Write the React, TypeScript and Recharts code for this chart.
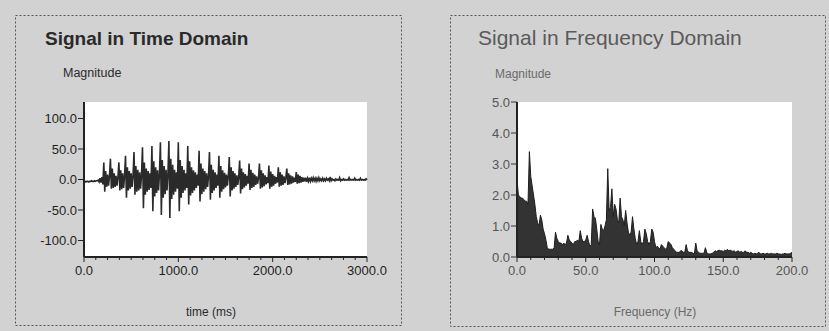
import React from "react";
import { LineChart, Line, AreaChart, Area, XAxis, YAxis, CartesianGrid } from "recharts";

// ---- Time-domain signal: one sample every 10 ms, 0..3000 ms ----
const SAMPLE_MS = 10;
const timeSignal: number[] = [
  // 0-200 ms
  -3, -3, -4, -3, -3, -4, -3, -3, -2, -3, -3, -2, -3, -2, -2, -1, -4, 2, -5, 4, -8,
  // bursts
  28, -20, 14, -12, 8, -10, 5,
  34, -15, 18, -14, 10, -12, 6, -10, 4,
  28, -18, 15, -16, 10, -14, 6,
  39, -30, 20, -18, 14, -15, 10, -12, 6,
  45, -25, 22, -20, 16, -18, 12, -15, 8,
  53, -47, 28, -25, 18, -20, 14, -17, 10, -14,
  55, -52, 30, -28, 20, -22, 15, -18, 10,
  61, -58, 32, -30, 22, -24, 16, -18, 10,
  63, -63, 34, -32, 24, -25, 16, -20, 12, -15,
  61, -52, 32, -30, 22, -22, 16, -18, 10, -14,
  55, -41, 30, -26, 20, -22, 15, -18, 12, -14, 8, -10,
  47, -36, 26, -24, 18, -20, 14, -16, 10, -12, 6,
  45, -33, 24, -22, 16, -18, 12, -14, 8, -10,
  39, -30, 22, -20, 15, -16, 11, -13, 8, -10, 5,
  37, -28, 20, -18, 14, -15, 10, -12, 7, -9, 4,
  31, -23, 18, -16, 12, -13, 9, -10, 6, -7,
  26, -17, 16, -14, 11, -12, 8, -9, 5, -7, 3,
  26, -15, 15, -13, 10, -11, 7, -8, 4, -6,
  23, -15, 13, -12, 9, -10, 6, -7, 4, -5,
  20, -12, 12, -10, 8, -9, 5, -6, 3,
  18, -9, 10, -8, 7, -7, 5, -5, 3, -4,
  12, -7, 8, -6, 6, -5, 4, -4, 3, -3,
  // tail 2350-3000 ms
  3, -4, 2, -3, 3, -3, 2, -2, 3, -2,
  2, -3, 2, -2, 3, -2, 1, -2, 2, -2,
  1, -2, 2, -1, 1, -2, 4, -2, 1, -1,
  0, -2, 1, -1, 0, -1, 3, -2, 0, -1,
  1, -1, 0, -1, 0, -1, 3, -1, 0, -1,
  0, -1, 2, -1, 0, -1, 0, -1, 2, -1,
  0, -1, 0, -1, 1, -1,
];

// ---- Frequency spectrum: one value per Hz, 0..200 Hz ----
const spectrum: number[] = [
  2.5, 2.0, 1.95, 1.9, 1.9, 1.85, 1.8, 1.8, 1.7, 3.4,
  2.6, 2.3, 2.0, 1.7, 1.3, 1.1, 1.0, 1.35, 1.2, 0.9,
  0.75, 0.55, 0.3, 0.25, 0.25, 0.25, 0.25, 0.3, 0.8, 0.6,
  0.5, 0.45, 0.45, 0.4, 0.45, 0.4, 0.45, 0.7, 0.55, 0.5,
  0.45, 0.4, 0.5, 0.5, 0.55, 0.5, 0.85, 0.6, 0.5, 0.5,
  0.55, 0.7, 0.5, 0.35, 0.4, 1.55, 1.3, 1.25, 0.9, 0.5,
  0.4, 1.05, 0.9, 0.85, 1.0, 1.2, 2.85, 1.5, 1.6, 2.2,
  1.3, 1.7, 1.55, 1.2, 1.1, 1.9, 1.3, 1.2, 1.0, 1.5,
  1.1, 0.8, 0.7, 0.8, 1.3, 0.9, 0.6, 0.4, 0.5, 0.85,
  0.5, 0.4, 0.5, 0.9, 0.75, 0.5, 0.4, 0.5, 0.9, 0.8,
  0.5, 0.3, 0.35, 0.3, 0.25, 0.4, 0.35, 0.3, 0.25, 0.3,
  0.5, 0.45, 0.4, 0.3, 0.25, 0.2, 0.15, 0.15, 0.15, 0.2,
  0.2, 0.15, 0.15, 0.4, 0.2, 0.15, 0.15, 0.15, 0.12, 0.1,
  0.45, 0.2, 0.15, 0.12, 0.12, 0.12, 0.12, 0.3, 0.15, 0.1,
  0.1, 0.1, 0.12, 0.15, 0.2, 0.18, 0.2, 0.22, 0.2, 0.2,
  0.18, 0.22, 0.2, 0.25, 0.2, 0.22, 0.2, 0.18, 0.2, 0.15,
  0.18, 0.2, 0.15, 0.18, 0.15, 0.15, 0.2, 0.15, 0.15, 0.12,
  0.15, 0.12, 0.1, 0.12, 0.1, 0.12, 0.15, 0.1, 0.1, 0.12,
  0.1, 0.1, 0.12, 0.1, 0.1, 0.12, 0.1, 0.1, 0.1, 0.12,
  0.1, 0.1, 0.08, 0.1, 0.1, 0.12, 0.1, 0.1, 0.1, 0.12,
  0.15,
];

const TIME_Y_TICKS = [-100, -50, 0, 50, 100];
const TIME_X_MAJOR = [0, 1000, 2000, 3000];
const TIME_X_TICKS = [
  0, 125, 250, 375, 500, 625, 750, 875, 1000, 1125, 1250, 1375, 1500,
  1625, 1750, 1875, 2000, 2125, 2250, 2375, 2500, 2625, 2750, 2875, 3000,
];
const FREQ_Y_TICKS = [0, 1, 2, 3, 4, 5];
const FREQ_X_MAJOR = [0, 50, 100, 150, 200];
const FREQ_X_TICKS = [
  0, 10, 20, 30, 40, 50, 60, 70, 80, 90, 100, 110, 120, 130, 140, 150,
  160, 170, 180, 190, 200,
];

const timeData = timeSignal.map((v, i) => ({ t: i * SAMPLE_MS, v }));
const freqData = spectrum.map((m, i) => ({ f: i, m }));

const FONT = "'Liberation Sans', Arial, sans-serif";

const makeXTick = (major: number[], color: string) => (props: any) => {
  const { x, y, payload } = props;
  const isMajor = major.includes(payload.value);
  return (
    <g>
      <line x1={x} x2={x} y1={y} y2={y + (isMajor ? 5 : 3)} stroke="#222" strokeWidth={1} />
      {isMajor && (
        <text x={x} y={y + 18} textAnchor="middle" fontSize={13} fontFamily={FONT} fill={color}>
          {Number(payload.value).toFixed(1)}
        </text>
      )}
    </g>
  );
};

const TimeXTick = makeXTick(TIME_X_MAJOR, "#1e1e1e");
const FreqXTick = makeXTick(FREQ_X_MAJOR, "#555");

export default function App() {
  return (
    <div style={{ position: "absolute", left: 0, top: 0, width: 829, height: 331, background: "#d2d2d2", overflow: "hidden" }}>
      <svg width={829} height={331} style={{ position: "absolute", left: 0, top: 0 }}>
        <rect x={15.5} y={15.5} width={386} height={310} fill="none" stroke="#555" strokeDasharray="2 2" />
        <rect x={450.5} y={15.5} width={375} height={311} fill="none" stroke="#555" strokeDasharray="2 2" />
        <text x={45} y={45} fontSize={19} fontWeight="bold" fontFamily={FONT} fill="#2a2a2a">Signal in Time Domain</text>
        <text x={63} y={77} fontSize={12.5} fontFamily={FONT} fill="#2a2a2a">Magnitude</text>
        <text x={211} y={316} fontSize={12} fontFamily={FONT} fill="#2a2a2a" textAnchor="middle">time (ms)</text>
        <text x={478} y={45} fontSize={21} fontFamily={FONT} fill="#5a5a5a">Signal in Frequency Domain</text>
        <text x={495} y={78} fontSize={12} fontFamily={FONT} fill="#6a6a6a">Magnitude</text>
        <text x={655} y={316} fontSize={12} fontFamily={FONT} fill="#6a6a6a" textAnchor="middle">Frequency (Hz)</text>
      </svg>

      <div style={{ position: "absolute", left: 0, top: 0 }}>
        <LineChart width={415} height={331} data={timeData} margin={{ top: 102, right: 48, bottom: 44, left: 44 }}>
          <CartesianGrid fill="#ffffff" stroke="none" />
          <XAxis
            dataKey="t"
            type="number"
            domain={[0, 3000]}
            ticks={TIME_X_TICKS}
            interval={0}
            height={30}
            tickSize={0}
            tickMargin={0}
            tick={TimeXTick}
            axisLine={{ stroke: "#222", strokeWidth: 2 }}
            tickLine={false}
          />
          <XAxis xAxisId="top" dataKey="t" type="number" domain={[0, 3000]} orientation="top" height={0} tick={false} tickLine={false} axisLine={{ stroke: "#555", strokeWidth: 1 }} />
          <YAxis
            type="number"
            domain={[-127, 127]}
            ticks={TIME_Y_TICKS}
            interval={0}
            width={40}
            tickSize={6}
            tickMargin={1}
            tickFormatter={(v: number) => v.toFixed(1)}
            tick={{ fill: "#1e1e1e", fontSize: 13, fontFamily: FONT }}
            tickLine={{ stroke: "#222" }}
            axisLine={{ stroke: "#222", strokeWidth: 2 }}
            allowDataOverflow
          />
          <YAxis yAxisId="right" orientation="right" domain={[-127, 127]} width={0} tick={false} tickLine={false} axisLine={{ stroke: "#555", strokeWidth: 1 }} />
          <Line dataKey="v" type="linear" stroke="#2a2a2a" strokeWidth={1.6} dot={false} isAnimationActive={false} />
        </LineChart>
      </div>

      <div style={{ position: "absolute", left: 415, top: 0 }}>
        <AreaChart width={414} height={331} data={freqData} margin={{ top: 102, right: 37, bottom: 44, left: 62 }}>
          <CartesianGrid fill="#ffffff" stroke="none" />
          <XAxis
            dataKey="f"
            type="number"
            domain={[0, 200]}
            ticks={FREQ_X_TICKS}
            interval={0}
            height={30}
            tickSize={0}
            tickMargin={0}
            tick={FreqXTick}
            axisLine={{ stroke: "#222", strokeWidth: 2 }}
            tickLine={false}
          />
          <XAxis xAxisId="top" dataKey="f" type="number" domain={[0, 200]} orientation="top" height={0} tick={false} tickLine={false} axisLine={{ stroke: "#555", strokeWidth: 1 }} />
          <YAxis
            type="number"
            domain={[0, 5]}
            ticks={FREQ_Y_TICKS}
            interval={0}
            width={40}
            tickSize={6}
            tickMargin={1}
            tickFormatter={(v: number) => v.toFixed(1)}
            tick={{ fill: "#555", fontSize: 13, fontFamily: FONT }}
            tickLine={{ stroke: "#333" }}
            axisLine={{ stroke: "#222", strokeWidth: 2 }}
          />
          <YAxis yAxisId="right" orientation="right" domain={[0, 5]} width={0} tick={false} tickLine={false} axisLine={{ stroke: "#555", strokeWidth: 1 }} />
          <Area dataKey="m" type="linear" stroke="#1e1e1e" strokeWidth={1} fill="#333333" fillOpacity={1} dot={false} isAnimationActive={false} baseValue={0} />
        </AreaChart>
      </div>
    </div>
  );
}
